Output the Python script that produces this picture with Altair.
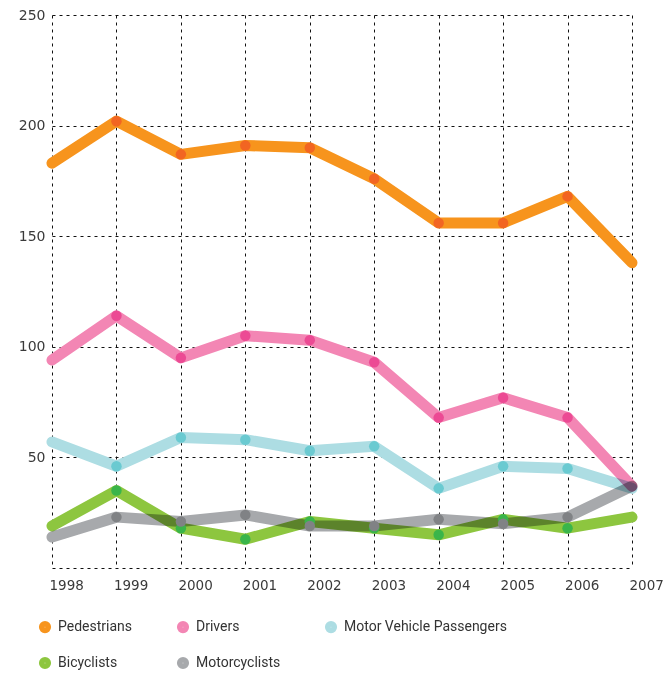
import altair as alt
import pandas as pd

years = [1998, 1999, 2000, 2001, 2002, 2003, 2004, 2005, 2006, 2007]
series = ["Pedestrians", "Drivers", "Motor Vehicle Passengers", "Bicyclists", "Motorcyclists"]
pedestrians = [183, 202, 187, 191, 190, 176, 156, 156, 168, 138]
drivers = [94, 114, 95, 105, 103, 93, 68, 77, 68, 37]
passengers = [57, 46, 59, 58, 53, 55, 36, 46, 45, 36]
bicyclists = [19, 35, 18, 13, 21, 18, 15, 22, 18, 23]
motorcyclists = [14, 23, 21, 24, 19, 19, 22, 20, 23, 37]
line_colors = ["#F7941D", "#F386B4", "#ADDDE3", "#8DC63F", "#A7A9AC"]
dot_colors = ["#F26522", "#EC4A94", "#6ACAD1", "#3AB54A", "#808285"]
y_ticks = [0, 50, 100, 150, 200, 250]

values = [pedestrians, drivers, passengers, bicyclists, motorcyclists]
rows = []
for i, (name, vals) in enumerate(zip(series, values)):
    for yr, v in zip(years, vals):
        rows.append({"year": yr, "value": v, "series": name, "order": i,
                     "dotColor": dot_colors[i]})
df = pd.DataFrame(rows)

x = alt.X("year:Q", scale=alt.Scale(domain=[1998, 2007], nice=False, zero=False),
          axis=alt.Axis(values=years, format="d", title=None, grid=True,
                        gridDash=[3, 4], gridColor="#111111", gridWidth=1,
                        domain=False, ticks=False, labelAlign="left",
                        labelOffset=-3, labelPadding=10, labelFont="DejaVu Sans",
                        labelFontSize=13.5, labelColor="#3a3a3a"))
y = alt.Y("value:Q", scale=alt.Scale(domain=[0, 250], nice=False),
          axis=alt.Axis(values=y_ticks, title=None, grid=True,
                        gridDash=[3, 4], gridColor="#111111", gridWidth=1,
                        domain=False, ticks=False, labelPadding=7,
                        labelExpr="datum.value == 0 ? '' : datum.label",
                        labelFont="DejaVu Sans", labelFontSize=14,
                        labelColor="#3a3a3a", labelBaseline="middle"))

base = alt.Chart(df)

underlay = base.mark_line(strokeWidth=11, strokeCap="round", strokeJoin="round",
                          color="white").encode(x=x, y=y, detail="series:N")

lines = base.mark_line(strokeWidth=11, strokeCap="round", strokeJoin="round",
                       blend="multiply").encode(
    x=x, y=y,
    color=alt.Color("series:N", scale=alt.Scale(domain=series, range=line_colors),
                    sort=series,
                    legend=alt.Legend(orient="none", legendX=-14, legendY=605,
                                      direction="horizontal", columns=3, title=None,
                                      symbolType="circle", symbolSize=32,
                                      symbolStrokeWidth=6.5, symbolOpacity=1,
                                      labelFont="Roboto", labelLimit=300,
                                      labelFontSize=14, labelColor="#333333",
                                      columnPadding=34, rowPadding=4,
                                      labelOffset=6)),
    order="order:Q",
)

dots = base.transform_filter(
    (alt.datum.year >= 1999) & (alt.datum.year <= 2006)
).mark_circle(size=110, opacity=1).encode(
    x=x, y=y,
    color=alt.Color("dotColor:N", scale=None),
)

chart = alt.layer(underlay, lines, dots).resolve_scale(color="independent").properties(
    width=580, height=553,
    padding={"left": 44, "top": 7, "right": 32, "bottom": 102},
    autosize=alt.AutoSizeParams(type="none"),
).configure_view(stroke=None)

chart.save("out.html", embed_options={"renderer": "svg", "actions": False})
